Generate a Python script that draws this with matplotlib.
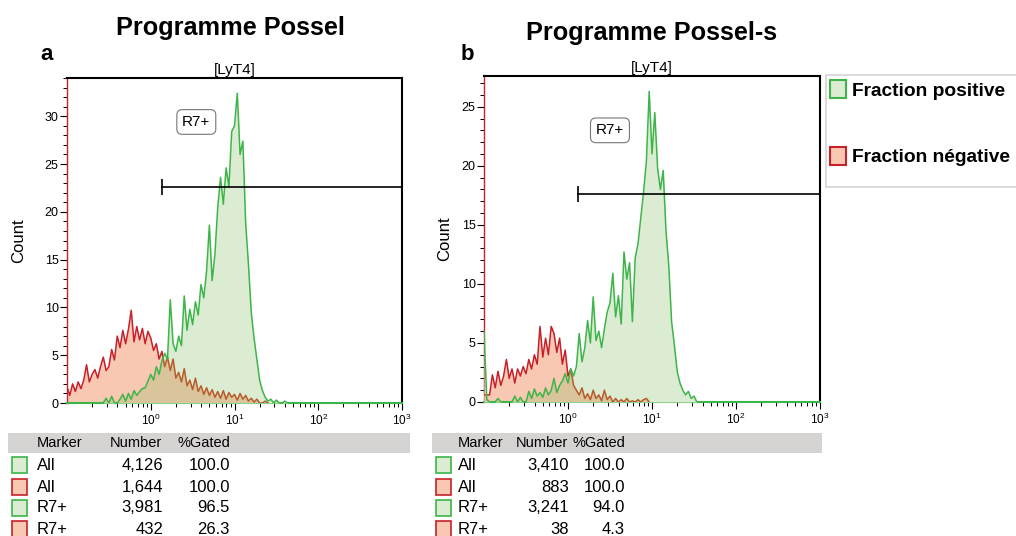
import numpy as np
import matplotlib
matplotlib.use('Agg')
import matplotlib.pyplot as plt
from matplotlib.patches import Patch, Rectangle
from matplotlib.ticker import FixedLocator, LogLocator, NullFormatter, MultipleLocator

plt.rcParams['font.family'] = ['Liberation Sans', 'DejaVu Sans']

# histogram channels: 30 channels per decade starting at 10^-1
LOG_START = -1.0
CH_PER_DECADE = 30

# panel a  (Programme Possel)
pos_a = [0, 0, 0, 0, 0, 0, 0, 0, 0, 0,
         0, 0, 0, 0, 0.5, 0, 0.7, 0, 0, 0.4,
         0.9, 0.2, 1.0, 0.4, 1.3, 0.8, 1.2, 1.5, 1.6, 2.3,
         3.0, 2.4, 3.8, 3.0, 4.4, 5.2, 4.6, 10.8, 6.2, 5.4,
         7.0, 6.0, 11.2, 7.6, 9.8, 8.2, 10.6, 9.2, 12.4, 11.0,
         13.8, 18.6, 12.8, 15.6, 20.5, 23.6, 20.8, 24.6, 22.6, 28.4,
         29.0, 32.4, 26.0, 27.4, 18.8, 14.5, 9.5, 6.8, 4.6, 2.4,
         1.3, 0.6, 0.2, 0.4, 0, 0.3, 0, 0, 0.2, 0, 0]
neg_a = [1.7, 0.8, 2.0, 1.2, 2.2, 1.5, 2.4, 4.0, 2.2, 3.0,
         3.5, 2.6, 3.8, 4.8, 3.4, 3.8, 5.6, 4.5, 7.0, 5.8,
         7.6, 6.2, 7.7, 9.7, 6.4, 8.0, 6.6, 7.8, 6.2, 7.5,
         6.8, 5.5, 6.2, 4.6, 5.4, 3.8, 4.8, 3.4, 4.6, 2.6,
         3.2, 2.2, 3.6, 1.8, 2.4, 1.4, 2.6, 1.2, 1.8, 0.9,
         1.6, 0.8, 1.4, 0.6, 1.2, 0.5, 1.3, 0.4, 1.1, 0.6,
         0.9, 0.3, 1.0, 0.4, 0.8, 0.2, 0.5, 0.1, 0.4, 0,
         0, 0.2, 0]

# panel b  (Programme Possel-s)
pos_b = [6.0, 0.2, 0, 0, 0, 0.3, 0, 0, 0, 0,
         0, 0.5, 0, 0.4, 0, 0, 0.9, 0.3, 1.1, 0.5,
         0.8, 0.4, 1.2, 0.6, 1.0, 2.0, 0.8, 1.4, 1.8, 2.4,
         1.6, 2.8, 2.2, 3.0, 5.8, 3.4, 4.6, 6.9, 5.0, 8.9,
         5.2, 6.0, 4.6, 6.2, 7.6, 8.4, 10.9, 7.2, 9.0, 6.6,
         12.7, 10.4, 11.8, 6.8, 12.2, 13.4, 15.6, 17.8, 20.4, 26.3,
         21.0, 24.5, 19.8, 18.0, 19.6, 14.5, 11.5, 6.8, 4.8, 2.6,
         1.6, 1.0, 0.6, 0.9, 0.3, 0.5, 0, 0, 0, 0]
neg_b = [0.6, 0.6, 0.6, 2.3, 1.2, 2.6, 1.4, 2.2, 3.6, 2.0,
         2.8, 1.6, 2.8, 2.2, 3.0, 2.4, 3.6, 2.8, 4.0, 3.2,
         6.4, 3.8, 5.4, 4.0, 6.4, 5.8, 4.2, 5.4, 3.2, 4.4,
         2.2, 2.8, 1.4, 1.0, 0.6, 1.2, 0.3, 0.7, 0.2, 1.0,
         0.3, 0.6, 0.1, 1.0, 0.2, 0.5, 0, 0.3, 0, 0.2,
         0, 0.3, 0, 0.1, 0, 0.2, 0, 0.2, 0.3, 0]

# statistics tables
table_markers = ['All', 'All', 'R7+', 'R7+']
table_kinds = ['pos', 'neg', 'pos', 'neg']
numbers_a = ['4,126', '1,644', '3,981', '432']
gated_a = ['100.0', '100.0', '96.5', '26.3']
numbers_b = ['3,410', '883', '3,241', '38']
gated_b = ['100.0', '100.0', '94.0', '4.3']

# gate R7+ (start channel value, height)
gate_a = (1.35, 22.6)
gate_b = (1.32, 17.6)

GREEN_LINE = '#3db54a'
GREEN_FILL = '#dcecd2'
RED_LINE = '#c8202a'
RED_FILL = '#f9c8b2'
TAN = '#d9c49c'
BROWN = '#b85c2c'

W, H = 1016, 536


def fx(px):
    return px / W


def fy(py):
    return 1 - py / H


def channels(vals):
    return 10 ** (LOG_START + np.arange(len(vals)) / CH_PER_DECADE)


def draw_hist(ax, pos, neg, ymax, gate, label_xy):
    xn = channels(neg)
    xp = channels(pos)
    ax.fill_between(xn, neg, color=RED_FILL, lw=0, zorder=1)
    ax.plot(xn, neg, color=RED_LINE, lw=1.1, zorder=2)
    green = ax.fill_between(xp, pos, color=GREEN_FILL, lw=0, zorder=3)
    clip = green.get_paths()[0]
    over = ax.fill_between(xn, neg, color=TAN, lw=0, zorder=4)
    over.set_clip_path(clip, ax.transData)
    brown, = ax.plot(xn, neg, color=BROWN, lw=1.1, zorder=5)
    brown.set_clip_path(clip, ax.transData)
    ax.plot(xp, pos, color=GREEN_LINE, lw=1.1, zorder=6)

    ax.set_xscale('log')
    ax.set_xlim(0.1, 1000)
    ax.set_ylim(0, ymax)
    ax.xaxis.set_major_locator(FixedLocator([1, 10, 100, 1000]))
    ax.xaxis.set_minor_locator(LogLocator(base=10, subs=np.arange(2, 10)))
    ax.xaxis.set_minor_formatter(NullFormatter())
    ax.yaxis.set_major_locator(MultipleLocator(5))
    ax.yaxis.set_minor_locator(MultipleLocator(1))
    ax.tick_params(axis='y', labelsize=9, length=5, width=0.8, pad=1)
    ax.tick_params(axis='x', labelsize=8.5, length=5, width=0.8, pad=2)
    ax.tick_params(which='minor', length=3, width=0.7)

    for s in ['top', 'right']:
        ax.spines[s].set_linewidth(1.5)
        ax.spines[s].set_color('black')
    ax.spines['left'].set_color(RED_LINE)
    ax.spines['left'].set_linewidth(1.0)
    ax.spines['bottom'].set_color(GREEN_LINE)
    ax.spines['bottom'].set_linewidth(1.5)

    ax.set_title('[LyT4]', fontsize=11, pad=3)
    ax.set_ylabel('Count', fontsize=12)

    gx, gy = gate
    ax.plot([gx, 1000], [gy, gy], color='black', lw=1.2, zorder=7, clip_on=False)
    ax.plot([gx], [gy], marker='|', ms=11, mew=1.2, color='black', zorder=7)
    ax.text(label_xy[0], label_xy[1], 'R7+', fontsize=11, ha='center', va='center', zorder=8,
            bbox=dict(boxstyle='round,pad=0.35', fc='white', ec='#777777', lw=0.8))


def draw_table(fig, x_bar, x_bar_end, x_marker, x_num, x_pct, numbers, gated):
    fig.patches.append(Rectangle((fx(x_bar), fy(453)), fx(x_bar_end - x_bar), 20 / H,
                                 transform=fig.transFigure, fc='#d6d3d3', ec='none'))
    fig.text(fx(x_marker), fy(443), 'Marker', fontsize=10.5, va='center')
    fig.text(fx(x_num - 1), fy(443), 'Number', fontsize=10.5, va='center', ha='right')
    fig.text(fx(x_pct), fy(443), '%Gated', fontsize=10.5, va='center', ha='right')
    rows_y = [465, 487, 508, 529]
    for ry, m, kind, n, p in zip(rows_y, table_markers, table_kinds, numbers, gated):
        fc, ec = (GREEN_FILL, GREEN_LINE) if kind == 'pos' else (RED_FILL, RED_LINE)
        fig.patches.append(Rectangle((fx(x_bar + 4), fy(ry + 8)), 15 / W, 16 / H,
                                     transform=fig.transFigure, fc=fc, ec=ec, lw=1.2))
        fig.text(fx(x_marker), fy(ry), m, fontsize=12, va='center')
        fig.text(fx(x_num), fy(ry), n, fontsize=12, va='center', ha='right')
        fig.text(fx(x_pct), fy(ry), p, fontsize=12, va='center', ha='right')


fig = plt.figure(figsize=(W / 100, H / 100), dpi=100)

ax_a = fig.add_axes([fx(67), fy(403), fx(402 - 67), (403 - 78) / H])
draw_hist(ax_a, pos_a, neg_a, 34, gate_a, (3.5, 29.4))
ax_a.yaxis.set_label_coords(-0.121, 0.5)

ax_b = fig.add_axes([fx(484), fy(402), fx(820 - 484), (402 - 76) / H])
draw_hist(ax_b, pos_b, neg_b, 27.6, gate_b, (3.16, 23.0))
ax_b.yaxis.set_label_coords(-0.096, 0.5)

fig.text(fx(230), fy(28), 'Programme Possel', fontsize=18.2, weight='bold', ha='center', va='center')
fig.text(fx(652), fy(33), 'Programme Possel-s', fontsize=18.2, weight='bold', ha='center', va='center')
fig.text(fx(47), fy(55), 'a', fontsize=16, weight='bold', ha='center', va='center')
fig.text(fx(467), fy(55), 'b', fontsize=16, weight='bold', ha='center', va='center')

# legend with its own frame
fig.patches.append(Rectangle((fx(826), fy(187)), fx(200), 112 / H, transform=fig.transFigure,
                             fc='white', ec='#d4d4d4', lw=1.2))
handles = [Patch(fc=GREEN_FILL, ec=GREEN_LINE, lw=1.5, label='Fraction positive'),
           Patch(fc=RED_FILL, ec=RED_LINE, lw=1.5, label='Fraction négative')]
fig.legend(handles=handles, loc='upper left', bbox_to_anchor=(fx(830), fy(80)), frameon=False,
           prop={'weight': 'bold', 'size': 13.8}, handlelength=0.85, handleheight=1.1,
           handletextpad=0.3, labelspacing=2.45, borderpad=0, borderaxespad=0)

draw_table(fig, 8, 410, 37, 163, 230, numbers_a, gated_a)
draw_table(fig, 432, 822, 458, 569, 625, numbers_b, gated_b)

fig.savefig('out.png', dpi=100)
